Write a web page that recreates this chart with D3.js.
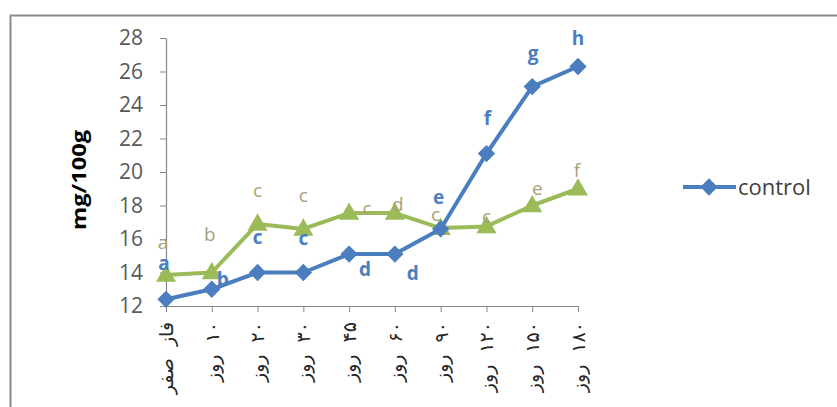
<!DOCTYPE html>
<html>
<head>
<meta charset="utf-8">
<script src="https://cdn.jsdelivr.net/npm/d3@7"></script>
<style>
  html, body { margin: 0; padding: 0; background: #fff; }
  svg { display: block; }
</style>
</head>
<body>
<svg id="chart" width="837" height="407"></svg>
<script>
// Sampling days (Persian labels) and mean values in mg/100g
const categories = ["فاز صفر", "۱۰ روز", "۲۰ روز", "۳۰ روز", "۴۵ روز", "۶۰ روز", "۹۰ روز", "۱۲۰ روز", "۱۵۰ روز", "۱۸۰ روز"];
const controlValues = [12.4, 13.0, 14.0, 14.0, 15.1, 15.1, 16.6, 21.1, 25.1, 26.3];
const treatmentValues = [13.85, 14.0, 16.9, 16.6, 17.55, 17.55, 16.65, 16.75, 18.0, 19.0];
const controlLetters = ["a", "b", "c", "c", "d", "d", "e", "f", "g", "h"];
const treatmentLetters = ["a", "b", "c", "c", "c", "d", "c", "c", "e", "f"];
const yTicks = [12, 14, 16, 18, 20, 22, 24, 26, 28];
const legendLabel = "control";
const yTitle = "mg/100g";

// Placement of the significance letters relative to each point [dx, dy]
const controlLetterOffset = [[-2,-36],[11,-10],[0,-35],[0,-34],[16,15],[18,19],[-2,-32],[1,-35],[1,-33],[0,-28]];
const treatmentLetterOffset = [[-3,-33],[-2,-38],[0,-34],[0,-34],[18,-5],[3,-9],[-5,-14],[0,-10],[5,-17],[-1,-18]];

const blue = "#4a7ebf";
const green = "#9bbb59";
const font = "'Open Sans', 'Noto Sans', sans-serif";

const svg = d3.select("#chart");

// chart frame
svg.append("rect")
  .attr("x", 10.5).attr("y", 15.5)
  .attr("width", 840).attr("height", 420)
  .attr("fill", "#fff")
  .attr("stroke", "#8a8a8a").attr("stroke-width", 2);

const x = d3.scalePoint().domain(categories).range([166, 578]);
const y = d3.scaleLinear().domain([12, 28]).range([306, 38]);

// y axis
const yAxis = svg.append("g")
  .attr("transform", "translate(166,0)")
  .call(d3.axisLeft(y).tickValues(yTicks).tickSize(6).tickSizeOuter(0).tickPadding(17).tickFormat(d3.format("d")));
yAxis.select(".domain").attr("stroke", "#868686").attr("stroke-width", 1.2);
yAxis.selectAll(".tick line").attr("stroke", "#868686");
yAxis.selectAll(".tick text")
  .attr("fill", "#595959")
  .style("font-family", font)
  .style("font-size", "21px");

// x axis
const xAxis = svg.append("g")
  .attr("transform", "translate(0,306)")
  .call(d3.axisBottom(x).tickSize(6).tickSizeOuter(0).tickFormat(""));
xAxis.select(".domain").attr("stroke", "#868686").attr("stroke-width", 1.2);
xAxis.selectAll(".tick line").attr("stroke", "#868686");

// rotated Persian category labels
svg.append("g").selectAll("text")
  .data(categories)
  .join("text")
  .attr("transform", d => `translate(${x(d)},322) rotate(-90)`)
  .attr("dy", "0.36em")
  .attr("direction", "rtl")
  .attr("text-anchor", "start")
  .attr("fill", "#262626")
  .style("font-family", "'DejaVu Sans', 'Noto Sans', sans-serif")
  .style("font-size", "19px")
  .style("word-spacing", "6px")
  .text(d => d);

// y axis title
svg.append("text")
  .attr("transform", "translate(86,180) rotate(-90)")
  .attr("text-anchor", "middle")
  .attr("fill", "#000")
  .attr("textLength", 100)
  .attr("lengthAdjust", "spacingAndGlyphs")
  .style("font-family", font)
  .style("font-weight", "bold")
  .style("font-size", "19px")
  .text(yTitle);

const line = d3.line()
  .x((d, i) => x(categories[i]))
  .y(d => y(d));

// treatment series (triangles)
svg.append("path")
  .datum(treatmentValues)
  .attr("d", line)
  .attr("fill", "none")
  .attr("stroke", green)
  .attr("stroke-width", 4)
  .attr("stroke-linejoin", "round");

const tri = d3.symbol().type(d3.symbolTriangle).size(175);
svg.append("g").selectAll("path")
  .data(treatmentValues)
  .join("path")
  .attr("d", tri)
  .attr("transform", (d, i) => `translate(${x(categories[i])},${y(d) + 1})`)
  .attr("fill", green);

// control series (diamonds)
svg.append("path")
  .datum(controlValues)
  .attr("d", line)
  .attr("fill", "none")
  .attr("stroke", blue)
  .attr("stroke-width", 4)
  .attr("stroke-linejoin", "round");

const diamond = d3.symbol().type(d3.symbolSquare).size(150);
svg.append("g").selectAll("path")
  .data(controlValues)
  .join("path")
  .attr("d", diamond)
  .attr("transform", (d, i) => `translate(${x(categories[i])},${y(d)}) rotate(45)`)
  .attr("fill", blue);

// significance letters
svg.append("g").selectAll("text")
  .data(treatmentLetters)
  .join("text")
  .attr("x", (d, i) => x(categories[i]) + treatmentLetterOffset[i][0])
  .attr("y", (d, i) => y(treatmentValues[i]) + treatmentLetterOffset[i][1])
  .attr("dy", "0.35em")
  .attr("text-anchor", "middle")
  .attr("fill", "#a8a27a")
  .style("font-family", font)
  .style("font-size", "19px")
  .text(d => d);

svg.append("g").selectAll("text")
  .data(controlLetters)
  .join("text")
  .attr("x", (d, i) => x(categories[i]) + controlLetterOffset[i][0])
  .attr("y", (d, i) => y(controlValues[i]) + controlLetterOffset[i][1])
  .attr("dy", "0.35em")
  .attr("text-anchor", "middle")
  .attr("fill", "#4a7ebf")
  .style("font-family", font)
  .style("font-weight", "bold")
  .style("font-size", "19px")
  .text(d => d);

// legend
const lg = svg.append("g").attr("transform", "translate(683,187)");
lg.append("line")
  .attr("x1", 0).attr("x2", 53).attr("y1", 0).attr("y2", 0)
  .attr("stroke", blue).attr("stroke-width", 4);
lg.append("path")
  .attr("d", diamond)
  .attr("transform", "translate(26,0) rotate(45)")
  .attr("fill", blue);
lg.append("text")
  .attr("x", 55).attr("y", 0).attr("dy", "0.35em")
  .attr("fill", "#404040")
  .style("font-family", font)
  .style("font-size", "22px")
  .text(legendLabel);
</script>
</body>
</html>
